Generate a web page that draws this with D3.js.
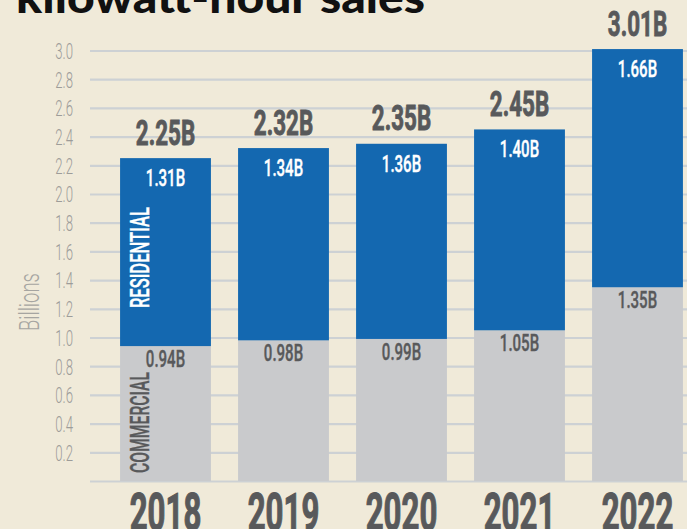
<!DOCTYPE html>
<html>
<head>
<meta charset="utf-8">
<script src="https://cdn.jsdelivr.net/npm/d3@7"></script>
<style>
  html, body { margin: 0; padding: 0; background: #f0ead9; }
  svg { display: block; }
</style>
</head>
<body>
<div id="chart"></div>
<script>
// Kilowatt-hour sales, stacked bars (commercial + residential)
const years       = ["2018", "2019", "2020", "2021", "2022"];
const commercial  = [0.94, 0.98, 0.99, 1.05, 1.35];
const residential = [1.31, 1.34, 1.36, 1.40, 1.66];
const totals      = [2.25, 2.32, 2.35, 2.45, 3.01];
const yTicks      = [0, 0.2, 0.4, 0.6, 0.8, 1.0, 1.2, 1.4, 1.6, 1.8, 2.0, 2.2, 2.4, 2.6, 2.8, 3.0];

const W = 687, H = 529;
const FONT = "Roboto, 'Liberation Sans', sans-serif";
const DARK = "#58595b", BLUE = "#1468b0", GREY = "#c9cacc";

const svg = d3.select("#chart").append("svg")
  .attr("width", W).attr("height", H);

svg.append("rect").attr("width", W).attr("height", H).attr("fill", "#f0ead9");

// SCALES
const x = d3.scaleBand()
  .domain(years)
  .range([106.5, 696.5])
  .paddingInner(0.23)
  .paddingOuter(0.115);

const y = d3.scaleLinear()
  .domain([0, 3.0])
  .range([481, 50.5]);

// title (cut off at the top of the frame)
svg.append("text")
  .attr("x", 16).attr("y", 13)
  .attr("textLength", 409)
  .attr("lengthAdjust", "spacingAndGlyphs")
  .style("font-family", "Lato, 'Open Sans', sans-serif")
  .style("font-weight", 900)
  .style("font-size", "44px")
  .style("fill", "#111")
  .text("kilowatt-hour sales");

// Y AXIS + gridlines
const axisG = svg.append("g")
  .attr("transform", "translate(90,0)")
  .call(d3.axisLeft(y)
    .tickValues(yTicks)
    .tickSize(-(W - 90))
    .tickFormat(d => d === 0 ? "" : d3.format(".1f")(d)));

axisG.select(".domain").remove();
axisG.selectAll(".tick line")
  .attr("stroke", "#cdd1d4")
  .attr("stroke-width", 2.2);
axisG.selectAll(".tick text")
  .attr("x", 0).attr("dy", null).attr("y", 7.8)
  .attr("transform", `translate(-17,0) scale(0.6,1)`)
  .attr("text-anchor", "end")
  .style("font-family", FONT)
  .style("font-weight", 300)
  .style("font-size", "22px")
  .style("fill", "#9d9c99");

// axis title
svg.append("text")
  .attr("transform", "translate(39,331) rotate(-90)")
  .attr("textLength", 58)
  .attr("lengthAdjust", "spacingAndGlyphs")
  .style("font-family", FONT)
  .style("font-weight", 300)
  .style("font-size", "27px")
  .style("fill", "#a6a5a1")
  .text("Billions");

// STACK
const rows = years.map((yr, i) => ({ year: yr, commercial: commercial[i], residential: residential[i] }));
const series = d3.stack().keys(["commercial", "residential"])(rows);
const colors = { commercial: GREY, residential: BLUE };

svg.append("g")
  .selectAll("g")
  .data(series)
  .join("g")
  .attr("fill", s => colors[s.key])
  .selectAll("rect")
  .data(s => s)
  .join("rect")
  .attr("x", d => x(d.data.year))
  .attr("width", x.bandwidth())
  .attr("y", d => y(d[1]))
  .attr("height", d => y(d[0]) - y(d[1]));

function label(px, py, txt, size, weight, fill, sx, thick) {
  svg.append("text")
    .attr("transform", `translate(${px},${py}) scale(${sx},1)`)
    .attr("text-anchor", "middle")
    .style("font-family", FONT)
    .style("font-weight", weight)
    .style("font-size", size + "px")
    .style("fill", fill)
    .style("stroke", thick ? fill : "none")
    .style("stroke-width", thick || 0)
    .text(txt);
}

const cx = yr => x(yr) + x.bandwidth() / 2;

years.forEach((yr, i) => {
  label(cx(yr), y(totals[i]) - 13.5, totals[i].toFixed(2) + "B", 35, 700, DARK, 0.64, 0.9);
  label(cx(yr), y(totals[i]) + 28, residential[i].toFixed(2) + "B", 23.5, 500, "#fff", 0.64, 0.4);
  label(cx(yr), y(commercial[i]) + 21, commercial[i].toFixed(2) + "B", 23.5, 500, DARK, 0.64, 0.4);
  label(cx(yr), 530, yr, 52, 700, DARK, 0.6, 1.2);
});

// series names inside the first bar
const x0 = x(years[0]);
svg.append("text")
  .attr("transform", `translate(${x0 + 29},${y(commercial[0]) - 38}) rotate(-90)`)
  .attr("textLength", 101)
  .attr("lengthAdjust", "spacingAndGlyphs")
  .style("font-family", FONT)
  .style("font-weight", 500)
  .style("font-size", "26px")
  .style("fill", "#fff")
  .style("stroke", "#fff").style("stroke-width", 0.4)
  .text("RESIDENTIAL");

svg.append("text")
  .attr("transform", `translate(${x0 + 29},${y(0) - 8}) rotate(-90)`)
  .attr("textLength", 101)
  .attr("lengthAdjust", "spacingAndGlyphs")
  .style("font-family", FONT)
  .style("font-weight", 500)
  .style("font-size", "26px")
  .style("fill", DARK)
  .style("stroke", DARK).style("stroke-width", 0.4)
  .text("COMMERCIAL");
</script>
</body>
</html>
